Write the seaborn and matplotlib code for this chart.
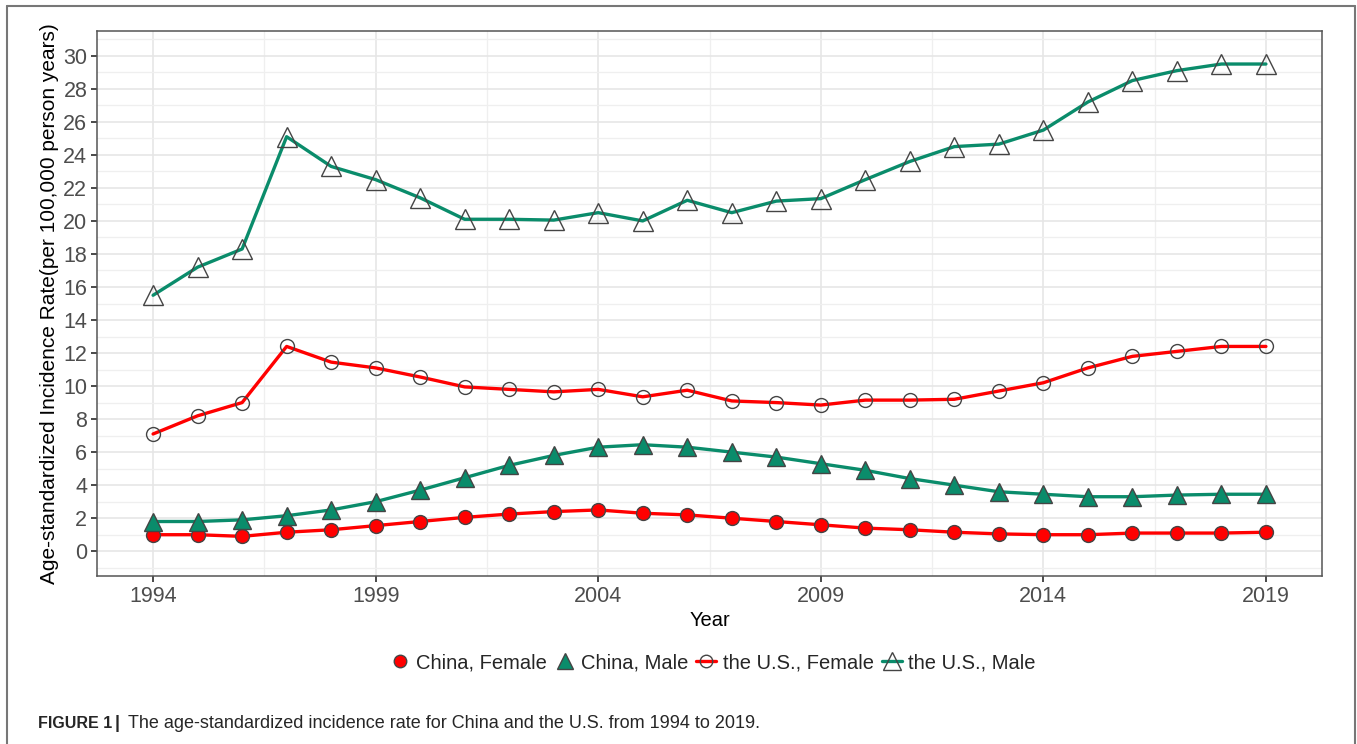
import matplotlib
matplotlib.use("Agg")
import matplotlib.pyplot as plt
from matplotlib.lines import Line2D
import seaborn as sns
import pandas as pd

years = list(range(1994, 2020))

# 各组发病率
china_female = [1.0, 1.0, 0.9, 1.15, 1.3, 1.55, 1.8, 2.05, 2.25, 2.4, 2.5, 2.3, 2.2,
                2.0, 1.8, 1.6, 1.4, 1.3, 1.15, 1.05, 1.0, 1.0, 1.1, 1.1, 1.1, 1.15]
china_male = [1.8, 1.8, 1.9, 2.15, 2.5, 3.0, 3.7, 4.45, 5.2, 5.8, 6.3, 6.45, 6.3,
              6.0, 5.7, 5.3, 4.9, 4.4, 4.0, 3.6, 3.45, 3.3, 3.3, 3.4, 3.45, 3.45]
us_female = [7.1, 8.2, 9.0, 12.4, 11.45, 11.1, 10.55, 9.95, 9.8, 9.65, 9.8, 9.35, 9.75,
             9.1, 9.0, 8.85, 9.15, 9.15, 9.2, 9.7, 10.2, 11.1, 11.8, 12.1, 12.4, 12.4]
us_male = [15.5, 17.2, 18.3, 25.1, 23.3, 22.5, 21.4, 20.1, 20.1, 20.05, 20.5, 20.0, 21.25,
           20.5, 21.2, 21.35, 22.5, 23.6, 24.5, 24.65, 25.5, 27.2, 28.5, 29.1, 29.5, 29.5]

labels = ["China, Female", "China, Male", "the U.S., Female", "the U.S., Male"]
y_ticks = list(range(0, 31, 2))
x_ticks = [1994, 1999, 2004, 2009, 2014, 2019]

RED = "#FF0000"
GREEN = "#0A8C6B"
EDGE = "#444444"

sns.set_theme(style="whitegrid")
plt.rcParams['font.family'] = ['Liberation Sans', 'DejaVu Sans']

df = pd.DataFrame({"Year": years, labels[0]: china_female, labels[1]: china_male,
                   labels[2]: us_female, labels[3]: us_male})

fig = plt.figure(figsize=(13.57, 7.44), dpi=100)
ax = fig.add_axes([97 / 1357, 1 - 576 / 744, (1322 - 97) / 1357, (576 - 31) / 744])

styles = {
    labels[0]: dict(color=RED, marker="o", markersize=10, markerfacecolor=RED, markeredgecolor=EDGE),
    labels[1]: dict(color=GREEN, marker="^", markersize=13.5, markerfacecolor=GREEN, markeredgecolor=EDGE),
    labels[2]: dict(color=RED, marker="o", markersize=10, markerfacecolor="none", markeredgecolor=EDGE),
    labels[3]: dict(color=GREEN, marker="^", markersize=14, markerfacecolor="none", markeredgecolor=EDGE),
}
for name in labels:
    sns.lineplot(data=df, x="Year", y=name, ax=ax, linewidth=2.4, markeredgewidth=1.0,
                 legend=False, **styles[name])

ax.set_xlim(1992.74, 2020.26)
ax.set_ylim(-1.5, 31.5)
ax.set_xticks(x_ticks)
ax.set_yticks(y_ticks)
ax.set_xticks([1996.5, 2001.5, 2006.5, 2011.5, 2016.5], minor=True)
ax.set_yticks(list(range(-1, 32, 2)), minor=True)
ax.grid(which="major", color="#E6E6E6", linewidth=1.2)
ax.grid(which="minor", color="#EFEFEF", linewidth=0.9)
ax.set_facecolor("white")
for s in ax.spines.values():
    s.set_color("#555555")
    s.set_linewidth(1.1)
ax.tick_params(axis="both", which="major", labelsize=15.5, labelcolor="#4D4D4D",
               length=4, color="#333333", direction="out", bottom=True, left=True, pad=3)
ax.tick_params(which="minor", length=0)

ax.set_xlabel("Year", fontsize=14.5, color="black", labelpad=3)
ax.set_ylabel("Age-standardized Incidence Rate(per 100,000 person years)", fontsize=15,
              color="black", labelpad=3)

# 图例
handles = [
    Line2D([], [], linestyle="none", **{k: v for k, v in styles[labels[0]].items() if k != "color"}),
    Line2D([], [], linestyle="none", **{k: v for k, v in styles[labels[1]].items() if k != "color"}),
    Line2D([], [], linewidth=2.4, **styles[labels[2]]),
    Line2D([], [], linewidth=2.4, **styles[labels[3]]),
]
fig.legend(handles, labels, loc="center", bbox_to_anchor=(0.525, 1 - 663 / 744), ncol=4,
           frameon=False, fontsize=14.5, handlelength=1.0, handletextpad=0.3, columnspacing=0.4,
           markerscale=0.9)

# 外框
frame_kw = dict(color="#777777", linewidth=1.5, transform=fig.transFigure, clip_on=False)
fig.add_artist(Line2D([7 / 1357, 7 / 1357], [0, 1 - 6 / 744], **frame_kw))
fig.add_artist(Line2D([7 / 1357, 1355 / 1357], [1 - 6 / 744, 1 - 6 / 744], **frame_kw))
fig.add_artist(Line2D([1355 / 1357, 1355 / 1357], [0, 1 - 6 / 744], **frame_kw))

# 图注
fig.text(38 / 1357, 1 - 723 / 744, "FIGURE 1", fontsize=11.5, fontweight="bold",
         va="center", ha="left")
fig.text(115 / 1357, 1 - 723 / 744, "|", fontsize=13, fontweight="bold",
         va="center", ha="left")
fig.text(128 / 1357, 1 - 723 / 744,
         "The age-standardized incidence rate for China and the U.S. from 1994 to 2019.",
         fontsize=13, va="center", ha="left")

fig.savefig("out.png", dpi=100)
